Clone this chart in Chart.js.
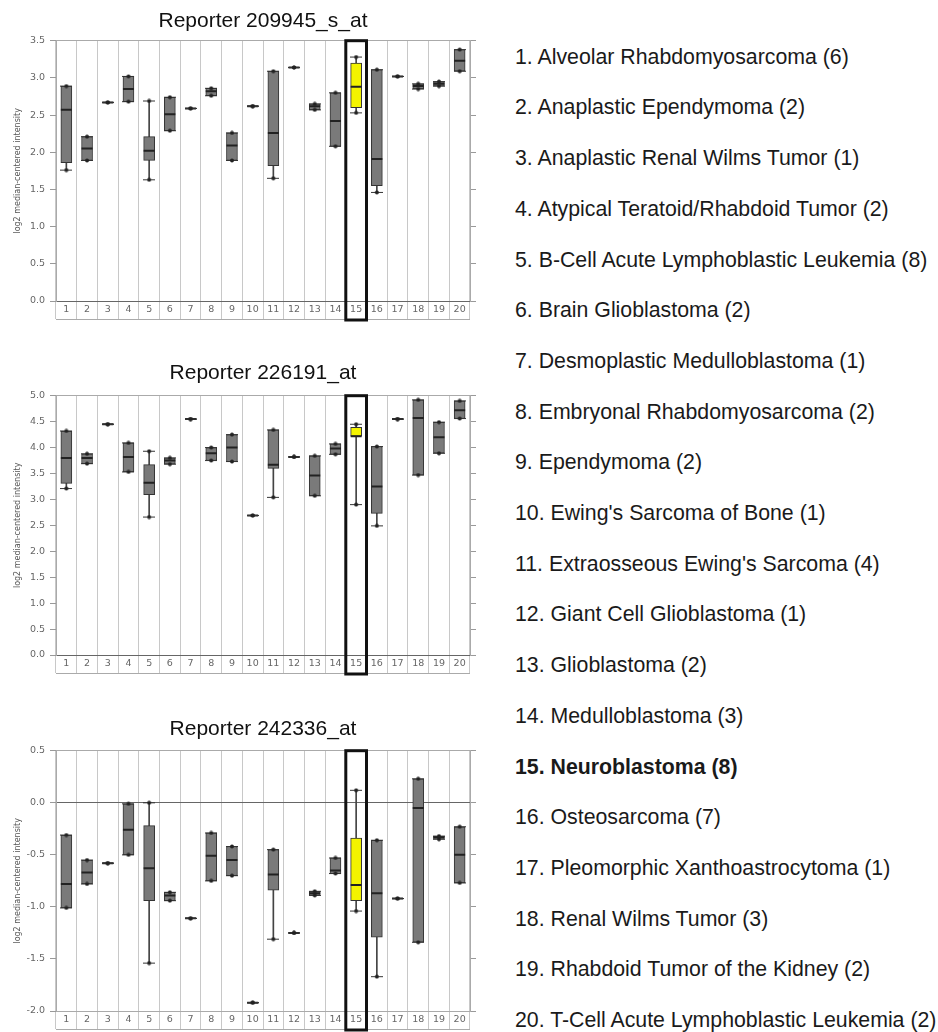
<!DOCTYPE html>
<html lang="en">
<head>
  <meta charset="UTF-8">
  <title>Reporter box plots</title>
  <script src="https://cdn.jsdelivr.net/npm/chart.js"></script>
  <style>
    body {
      margin: 0;
      background: #fff;
      width: 938px;
      height: 1032px;
      position: relative;
      overflow: hidden;
    }
    .panel {
      position: absolute;
      left: 0;
      width: 480px;
    }
    .legendItem {
      position: absolute;
      left: 515px;
      font-family: "Liberation Sans", Arial, sans-serif;
      font-size: 21.3px;
      line-height: 24px;
      color: #1a1a1a;
      white-space: nowrap;
    }
  </style>
</head>

<body>
  <div class="panel" style="top:5px;height:317px"><canvas id="chart1"></canvas></div>
  <div class="panel" style="top:357px;height:319px"><canvas id="chart2"></canvas></div>
  <div class="panel" style="top:713px;height:319px"><canvas id="chart3"></canvas></div>
  <div id="legend"></div>
</body>

<script>
  const groupNumbers = ['1', '2', '3', '4', '5', '6', '7', '8', '9', '10',
    '11', '12', '13', '14', '15', '16', '17', '18', '19', '20'];
  const groupNames = [
    'Alveolar Rhabdomyosarcoma', 'Anaplastic Ependymoma', 'Anaplastic Renal Wilms Tumor',
    'Atypical Teratoid/Rhabdoid Tumor', 'B-Cell Acute Lymphoblastic Leukemia', 'Brain Glioblastoma',
    'Desmoplastic Medulloblastoma', 'Embryonal Rhabdomyosarcoma', 'Ependymoma',
    "Ewing's Sarcoma of Bone", "Extraosseous Ewing's Sarcoma", 'Giant Cell Glioblastoma',
    'Glioblastoma', 'Medulloblastoma', 'Neuroblastoma', 'Osteosarcoma',
    'Pleomorphic Xanthoastrocytoma', 'Renal Wilms Tumor', 'Rhabdoid Tumor of the Kidney',
    'T-Cell Acute Lymphoblastic Leukemia'];
  const groupCounts = [6, 2, 1, 2, 8, 2, 1, 2, 2, 1, 4, 1, 2, 3, 8, 7, 1, 3, 2, 2];
  const highlightGroup = 14; // Neuroblastoma

  // Reporter 209945_s_at
  const r1Min = [1.76, 1.89, 2.67, 2.68, 1.63, 2.29, 2.59, 2.76, 1.89, 2.62, 1.65, 3.14, 2.57, 2.08, 2.53, 1.46, 3.02, 2.85, 2.89, 3.09];
  const r1Q1 = [1.86, 1.89, 2.67, 2.68, 1.89, 2.29, 2.59, 2.76, 1.89, 2.62, 1.82, 3.14, 2.57, 2.08, 2.60, 1.55, 3.02, 2.85, 2.89, 3.09];
  const r1Median = [2.57, 2.05, 2.67, 2.85, 2.02, 2.51, 2.59, 2.82, 2.09, 2.62, 2.26, 3.14, 2.62, 2.42, 2.88, 1.91, 3.02, 2.89, 2.92, 3.23];
  const r1Q3 = [2.89, 2.21, 2.67, 3.02, 2.21, 2.74, 2.59, 2.86, 2.26, 2.62, 3.09, 3.14, 2.65, 2.80, 3.20, 3.11, 3.02, 2.92, 2.95, 3.38];
  const r1Max = [2.89, 2.21, 2.67, 3.02, 2.69, 2.74, 2.59, 2.86, 2.26, 2.62, 3.09, 3.14, 2.65, 2.80, 3.28, 3.11, 3.02, 2.92, 2.95, 3.38];

  // Reporter 226191_at
  const r2Min = [3.21, 3.69, 4.45, 3.53, 2.66, 3.68, 4.55, 3.75, 3.73, 2.69, 3.04, 3.82, 3.07, 3.87, 2.90, 2.49, 4.55, 3.47, 3.89, 4.56];
  const r2Q1 = [3.31, 3.69, 4.45, 3.53, 3.09, 3.68, 4.55, 3.75, 3.73, 2.69, 3.60, 3.82, 3.07, 3.87, 4.22, 2.73, 4.55, 3.47, 3.89, 4.56];
  const r2Median = [3.80, 3.80, 4.45, 3.82, 3.32, 3.75, 4.55, 3.89, 4.00, 2.69, 3.67, 3.82, 3.46, 3.98, 4.22, 3.25, 4.55, 4.57, 4.20, 4.72];
  const r2Q3 = [4.32, 3.88, 4.45, 4.09, 3.67, 3.80, 4.55, 4.00, 4.25, 2.69, 4.34, 3.82, 3.84, 4.07, 4.39, 4.02, 4.55, 4.92, 4.49, 4.90];
  const r2Max = [4.32, 3.88, 4.45, 4.09, 3.93, 3.80, 4.55, 4.00, 4.25, 2.69, 4.34, 3.82, 3.84, 4.07, 4.45, 4.02, 4.55, 4.92, 4.49, 4.90];

  // Reporter 242336_at
  const r3Min = [-1.01, -0.78, -0.58, -0.50, -1.54, -0.94, -1.11, -0.75, -0.70, -1.92, -1.31, -1.25, -0.89, -0.68, -1.04, -1.67, -0.92, -1.34, -0.35, -0.77];
  const r3Q1 = [-1.01, -0.78, -0.58, -0.50, -0.94, -0.94, -1.11, -0.75, -0.70, -1.92, -0.84, -1.25, -0.89, -0.68, -0.94, -1.29, -0.92, -1.34, -0.35, -0.77];
  const r3Median = [-0.78, -0.67, -0.58, -0.26, -0.63, -0.89, -1.11, -0.51, -0.55, -1.92, -0.69, -1.25, -0.87, -0.65, -0.79, -0.87, -0.92, -0.05, -0.33, -0.50];
  const r3Q3 = [-0.31, -0.55, -0.58, -0.01, -0.22, -0.86, -1.11, -0.29, -0.42, -1.92, -0.45, -1.25, -0.85, -0.53, -0.34, -0.36, -0.92, 0.23, -0.32, -0.23];
  const r3Max = [-0.31, -0.55, -0.58, -0.01, 0.00, -0.86, -1.11, -0.29, -0.42, -1.92, -0.45, -1.25, -0.85, -0.53, 0.12, -0.36, -0.92, 0.23, -0.32, -0.23];

  // little "-•-" marker used for whisker ends
  var capMark = document.createElement('canvas');
  capMark.width = 12;
  capMark.height = 5;
  var cctx = capMark.getContext('2d');
  cctx.fillStyle = '#333';
  cctx.fillRect(0, 2, 12, 1);
  cctx.beginPath();
  cctx.arc(6, 2.5, 2, 0, Math.PI * 2);
  cctx.fillStyle = '#222';
  cctx.fill();

  const framePlugin = {
    id: 'frame',
    afterDraw(chart) {
      const ctx = chart.ctx;
      const area = chart.chartArea;
      const x = chart.scales.x;
      const stripBottom = area.bottom + x.options.grid.tickLength;
      ctx.save();
      ctx.strokeStyle = '#aaa';
      ctx.lineWidth = 1;
      ctx.beginPath();
      ctx.moveTo(area.left, Math.round(stripBottom) + 0.5);
      ctx.lineTo(area.right, Math.round(stripBottom) + 0.5);
      ctx.stroke();
      // box round the highlighted group
      const cx = x.getPixelForValue(highlightGroup);
      const half = (x.getPixelForValue(1) - x.getPixelForValue(0)) / 2;
      ctx.strokeStyle = '#111';
      ctx.lineWidth = 3;
      ctx.strokeRect(cx - half, area.top, half * 2, stripBottom - area.top + 1);
      ctx.restore();
    }
  };

  function makePanel(id, title, titleGap, yMin, yMax, lo, q1, med, q3, hi) {
    var tickFont = { family: 'DejaVu Sans', size: 9.5 };
    new Chart(document.getElementById(id), {
      type: 'bar',
      data: {
        labels: groupNumbers,
        datasets: [
          {
            // whiskers
            data: lo.map((v, i) => hi[i] > v ? [v, hi[i]] : null),
            backgroundColor: '#444',
            barThickness: 1,
            grouped: false,
            order: 4
          },
          {
            // boxes
            data: q1.map((v, i) => q3[i] > v ? [v, q3[i]] : null),
            backgroundColor: ctx => ctx.dataIndex === highlightGroup ? '#f4f400' : '#7a7a7a',
            borderColor: '#333',
            borderWidth: 1,
            borderSkipped: false,
            barThickness: 11,
            grouped: false,
            order: 3
          },
          {
            type: 'line',
            data: med,
            showLine: false,
            pointStyle: 'line',
            pointRadius: 5.5,
            pointBorderWidth: 2,
            pointBorderColor: '#222',
            order: 2
          },
          {
            type: 'line',
            data: lo,
            showLine: false,
            pointStyle: capMark,
            order: 1
          },
          {
            type: 'line',
            data: hi,
            showLine: false,
            pointStyle: capMark,
            order: 0
          }
        ]
      },
      options: {
        responsive: true,
        maintainAspectRatio: false,
        animation: false,
        layout: { padding: { left: 4, right: 4, top: 0, bottom: 3 } },
        plugins: {
          legend: { display: false },
          tooltip: { enabled: false },
          title: {
            display: true,
            text: title,
            fullSize: false,
            color: '#111',
            font: { family: 'Liberation Sans', size: 21, weight: 'normal' },
            padding: { top: 4, bottom: titleGap }
          }
        },
        scales: {
          // category cells: grid lines run down through the label strip
          x: {
            type: 'category',
            offset: true,
            weight: 0,
            afterFit: s => { s.height = 0; },
            grid: { offset: true, color: '#c8c8c8', tickColor: '#c8c8c8', tickLength: 18 },
            border: { display: false },
            ticks: { display: false }
          },
          // the numbers inside the strip
          xLabels: {
            type: 'category',
            position: 'bottom',
            offset: true,
            weight: 1,
            grid: { display: false, drawTicks: false },
            border: { display: false },
            ticks: { padding: 3.3, color: '#666', font: tickFont, autoSkip: false, maxRotation: 0 }
          },
          y: {
            position: 'left',
            min: yMin,
            max: yMax,
            afterFit: s => { s.width = 52; },
            ticks: { stepSize: 0.5, padding: 5, color: '#666', font: tickFont, callback: v => v.toFixed(1) },
            grid: {
              tickLength: 6,
              tickColor: '#999',
              color: c => {
                if (c.tick.value === 0) return '#666';
                if (c.tick.value === yMin || c.tick.value === yMax) return '#aaa';
                return 'rgba(0,0,0,0)';
              }
            },
            border: { color: '#aaa' },
            title: {
              display: true,
              text: 'log2 median-centered intensity',
              color: '#555',
              font: { family: 'DejaVu Sans', size: 8 },
              padding: { top: 9, bottom: 0 }
            }
          },
          y2: {
            position: 'right',
            min: yMin,
            max: yMax,
            ticks: { display: false, stepSize: 0.5 },
            grid: { drawOnChartArea: false, tickLength: 6, tickColor: '#999' },
            border: { color: '#aaa' }
          }
        }
      },
      plugins: [framePlugin]
    });
  }

  makePanel('chart1', 'Reporter 209945_s_at', 6.5, 0, 3.5, r1Min, r1Q1, r1Median, r1Q3, r1Max);
  makePanel('chart2', 'Reporter 226191_at', 9.5, 0, 5, r2Min, r2Q1, r2Median, r2Q3, r2Max);
  makePanel('chart3', 'Reporter 242336_at', 8.5, -2, 0.5, r3Min, r3Q1, r3Median, r3Q3, r3Max);

  var legendHTML = document.getElementById('legend');
  for (let i = 0; i < groupNames.length; i++) {
    var item = document.createElement('div');
    item.className = 'legendItem';
    item.style.top = (44.7 + i * 50.7) + 'px';
    if (i === highlightGroup) item.style.fontWeight = 'bold';
    item.textContent = groupNumbers[i] + '. ' + groupNames[i] + ' (' + groupCounts[i] + ')';
    legendHTML.appendChild(item);
  }
</script>

</html>
